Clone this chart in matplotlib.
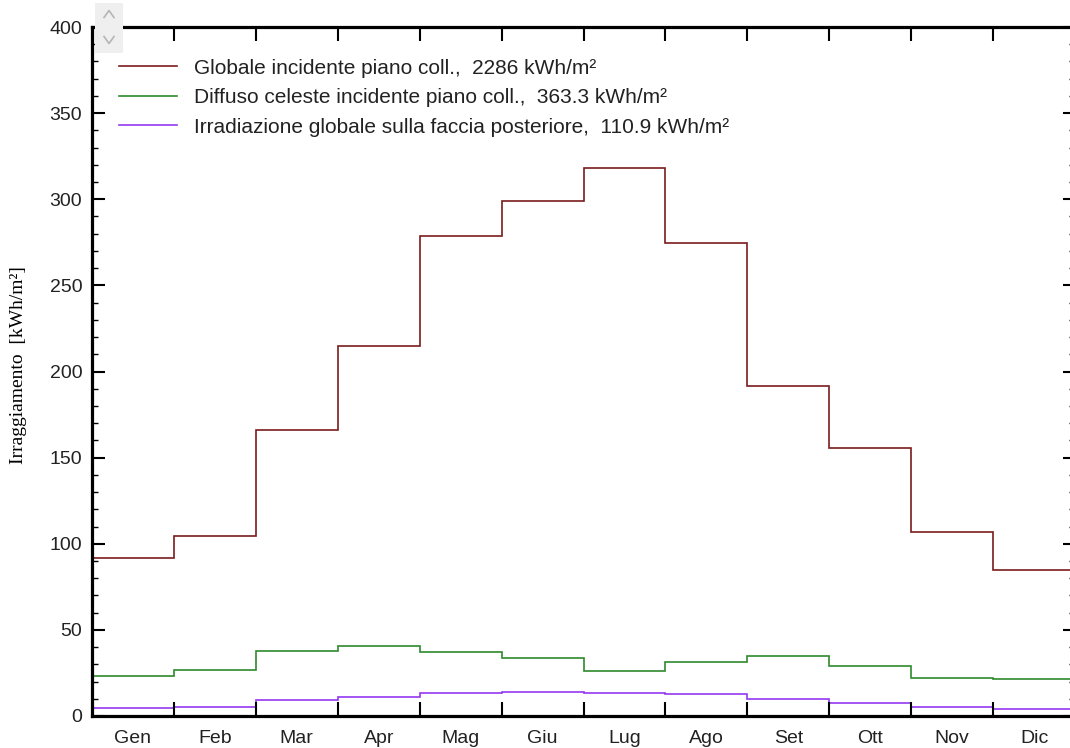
import numpy as np
import matplotlib
matplotlib.use("Agg")
import matplotlib.pyplot as plt
from matplotlib.patches import Rectangle
from matplotlib.lines import Line2D
from matplotlib.ticker import MultipleLocator, FixedLocator, NullFormatter

months = ["Gen", "Feb", "Mar", "Apr", "Mag", "Giu",
          "Lug", "Ago", "Set", "Ott", "Nov", "Dic"]

globale = [91.7, 104.5, 166.0, 214.8, 278.7, 299.0,
           318.0, 274.6, 191.6, 155.6, 106.8, 84.8]
diffuso = [23.0, 26.5, 37.9, 40.6, 37.0, 33.5,
           26.3, 31.2, 34.8, 29.0, 21.9, 21.6]
posteriore = [4.5, 5.2, 9.1, 11.2, 13.6, 13.7,
              13.6, 12.6, 10.1, 7.7, 5.4, 4.3]

labels = [
    "Globale incidente piano coll.,  2286 kWh/m\u00b2",
    "Diffuso celeste incidente piano coll.,  363.3 kWh/m\u00b2",
    "Irradiazione globale sulla faccia posteriore,  110.9 kWh/m\u00b2",
]
colors = ["#7a1c1c", "#2e8a2e", "#9438f0"]

W, H = 1070, 748
fig = plt.figure(figsize=(W / 100, H / 100), dpi=100)
ax = fig.add_axes([92 / W, 1 - 716 / H, (1075 - 92) / W, (716 - 27) / H])

edges = np.arange(len(months) + 1)
for vals, col, lab in zip([globale, diffuso, posteriore], colors, labels):
    ax.stairs(vals, edges, color=col, linewidth=1.2, label=lab,
              baseline=None)

ax.set_xlim(0, 12)
ax.set_ylim(0, 400)

for s in ax.spines.values():
    s.set_linewidth(2.3)

# y axis: majors every 50, minors every 10, ticks on both sides pointing in
ax.yaxis.set_major_locator(MultipleLocator(50))
ax.yaxis.set_minor_locator(MultipleLocator(10))
ax.tick_params(axis="y", which="major", direction="in", length=9, width=1.5,
               left=True, right=True, labelsize=14, pad=7)
ax.tick_params(axis="y", which="minor", direction="in", length=4.5, width=1.0,
               left=True, right=True)

# x axis: ticks at month boundaries, labels at month centres
ax.xaxis.set_major_locator(FixedLocator(edges[1:-1]))
ax.xaxis.set_major_formatter(NullFormatter())
ax.xaxis.set_minor_locator(FixedLocator(edges[:-1] + 0.5))
ax.set_xticklabels(months, minor=True)
ax.tick_params(axis="x", which="major", direction="in", length=10, width=1.5,
               bottom=True, top=True)
ax.tick_params(axis="x", which="minor", length=0, labelsize=14, pad=10)

for lbl in ax.get_xticklabels(minor=True) + ax.get_yticklabels():
    lbl.set_fontfamily("Liberation Sans")
    lbl.set_color("#222222")

ax.set_ylabel("Irraggiamento  [kWh/m\u00b2]", fontfamily="Liberation Serif",
              fontsize=14)
ax.yaxis.set_label_coords(-0.066, 0.51)

leg = ax.legend(loc="upper left", bbox_to_anchor=(0.027, 0.954), frameon=False,
                prop={"family": "Liberation Sans", "size": 15},
                handlelength=2.8, handletextpad=0.8, labelspacing=0.5,
                borderaxespad=0, borderpad=0)
for t in leg.get_texts():
    t.set_color("#222222")

# small scroll widget in the upper-left corner
x0, x1 = 95 / W, 123 / W
y0, y1 = 1 - 53 / H, 1 - 3 / H
fig.add_artist(Rectangle((x0, y0), x1 - x0, y1 - y0, transform=fig.transFigure,
                         facecolor="#efefef", edgecolor="none", zorder=10))
cx = 109 / W
for yc, sgn in [(1 - 14 / H, 1), (1 - 40 / H, -1)]:
    dx, dy = 5 / W, 3.5 / H
    fig.add_artist(Line2D([cx - dx, cx, cx + dx],
                          [yc - sgn * dy, yc + sgn * dy, yc - sgn * dy],
                          transform=fig.transFigure, color="#b5b5b5",
                          linewidth=1.2, zorder=11))

fig.savefig("out.png", dpi=100)
